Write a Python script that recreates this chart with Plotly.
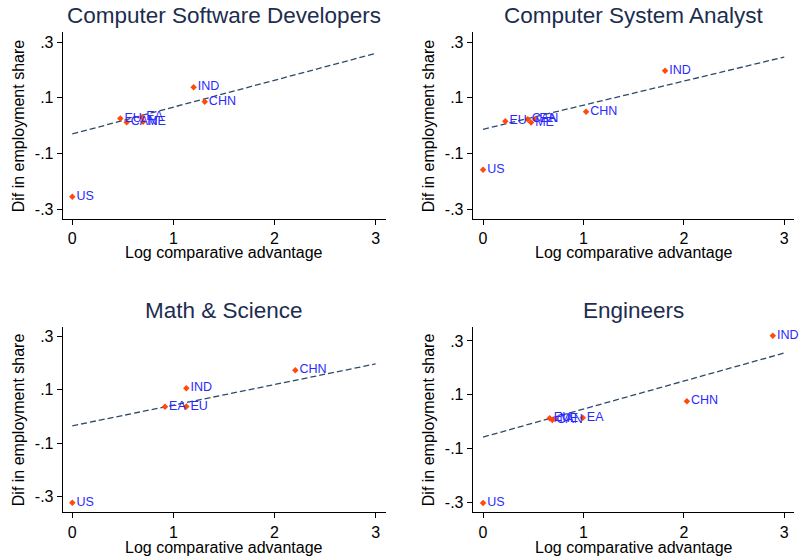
import plotly.graph_objects as go

W, H = 799, 559

# ---------------- data ----------------
titles = ["Computer Software Developers", "Computer System Analyst", "Math & Science", "Engineers"]

sw_labels = ["US", "IND", "CHN", "EU", "CAN", "ME", "EA"]
sw_x = [0.0, 1.20, 1.31, 0.475, 0.538, 0.70, 0.692]
sw_y = [-0.256, 0.138, 0.086, 0.026, 0.012, 0.014, 0.030]
sw_fit = [-0.030, 0.260]   # fitted line at x=0 and x=3

sa_labels = ["US", "IND", "CHN", "EU", "CAN", "ME", "EA"]
sa_x = [0.0, 1.813, 1.026, 0.222, 0.445, 0.478, 0.52]
sa_y = [-0.159, 0.198, 0.050, 0.016, 0.023, 0.011, 0.024]
sa_fit = [-0.013, 0.247]

ms_labels = ["US", "IND", "CHN", "EA", "EU"]
ms_x = [0.0, 1.128, 2.206, 0.917, 1.128]
ms_y = [-0.322, 0.105, 0.172, 0.036, 0.037]
ms_fit = [-0.035, 0.196]

en_labels = ["US", "IND", "CHN", "EU", "CAN", "ME", "EA"]
en_x = [0.0, 2.886, 2.03, 0.664, 0.69, 0.72, 0.993]
en_y = [-0.303, 0.319, 0.075, 0.012, 0.006, 0.009, 0.014]
en_fit = [-0.058, 0.255]

fit_x = [0, 3]
x_ticks = [0, 1, 2, 3]
y_ticks = [0.3, 0.1, -0.1, -0.3]
y_ticktext = [".3", ".1", "-.1", "-.3"]
x_title = "Log comparative advantage"
y_title = "Dif in employment share"

panels = [
    (sw_labels, sw_x, sw_y, sw_fit),
    (sa_labels, sa_x, sa_y, sa_fit),
    (ms_labels, ms_x, ms_y, ms_fit),
    (en_labels, en_x, en_y, en_fit),
]

# ---------------- layout geometry (page pixels) ----------------
boxes = [
    (62.7, 385.7, 32.3, 219.0),
    (472.7, 794.3, 32.3, 219.0),
    (62.7, 385.7, 326.7, 512.3),
    (472.7, 794.3, 326.7, 512.3),
]
x_ranges = [[-0.095, 3.10], [-0.103, 3.10], [-0.095, 3.10], [-0.103, 3.10]]
y_ranges = [[-0.336, 0.336], [-0.336, 0.336], [-0.358, 0.335], [-0.338, 0.353]]

def px(x):
    return x / W

def py(y):
    return 1 - y / H

TITLE_COLOR = "#1c2d50"
MARK_COLOR = "#ff4a0a"
LABEL_COLOR = "#2a2aff"
LINE_COLOR = "#2c4a6a"
FONT = "Liberation Sans, Arial, sans-serif"

fig = go.Figure()
annotations = []
layout = {}

for i, ((labs, xs, ys, fit), (l, r, t, b)) in enumerate(zip(panels, boxes)):
    n = "" if i == 0 else str(i + 1)
    xa, ya = "x" + n, "y" + n
    fig.add_trace(go.Scatter(
        x=fit_x, y=fit, mode="lines", xaxis=xa, yaxis=ya,
        line=dict(color=LINE_COLOR, width=1.3, dash="6px,3px"),
        hoverinfo="skip", showlegend=False))
    fig.add_trace(go.Scatter(
        x=xs, y=ys, mode="markers+text", text=labs, textposition="middle right",
        xaxis=xa, yaxis=ya,
        marker=dict(symbol="diamond", size=5, color=MARK_COLOR),
        textfont=dict(family=FONT, size=12.5, color=LABEL_COLOR),
        cliponaxis=False, showlegend=False))
    layout["xaxis" + n] = dict(
        domain=[px(l), px(r)], range=x_ranges[i], anchor=ya,
        tickvals=x_ticks, ticktext=[str(v) for v in x_ticks],
        showgrid=False, zeroline=False, showline=True, linecolor="black", linewidth=1,
        ticks="outside", ticklen=5, tickcolor="black", tickwidth=1,
        tickfont=dict(family=FONT, size=16, color="black"))
    layout["yaxis" + n] = dict(
        domain=[py(b), py(t)], range=y_ranges[i], anchor=xa,
        tickvals=y_ticks, ticktext=y_ticktext,
        showgrid=False, zeroline=False, showline=True, linecolor="black", linewidth=1,
        ticks="outside", ticklen=5, tickcolor="black", tickwidth=1,
        tickfont=dict(family=FONT, size=16, color="black"))
    cx = (l + r) / 2
    title_y = 16 if i < 2 else 310
    xt_y = 252 if i < 2 else 547
    annotations.append(dict(text=titles[i], x=px(cx), y=py(title_y), xref="paper", yref="paper",
                            xanchor="center", yanchor="middle", showarrow=False,
                            font=dict(family=FONT, size=22.5, color=TITLE_COLOR)))
    annotations.append(dict(text=x_title, x=px(cx), y=py(xt_y), xref="paper", yref="paper",
                            xanchor="center", yanchor="middle", showarrow=False,
                            font=dict(family=FONT, size=16, color="black")))
    annotations.append(dict(text=y_title, x=px(l - 44), y=py((t + b) / 2), xref="paper", yref="paper",
                            xanchor="center", yanchor="middle", showarrow=False, textangle=-90,
                            font=dict(family=FONT, size=16, color="black")))

fig.update_layout(
    width=W, height=H, margin=dict(l=0, r=0, t=0, b=0),
    paper_bgcolor="white", plot_bgcolor="white", hovermode=False,
    annotations=annotations, **layout)

fig.write_html("out.html",
               config={"displayModeBar": False},
               post_script="document.body.style.margin='0';document.body.style.overflow='hidden';")
